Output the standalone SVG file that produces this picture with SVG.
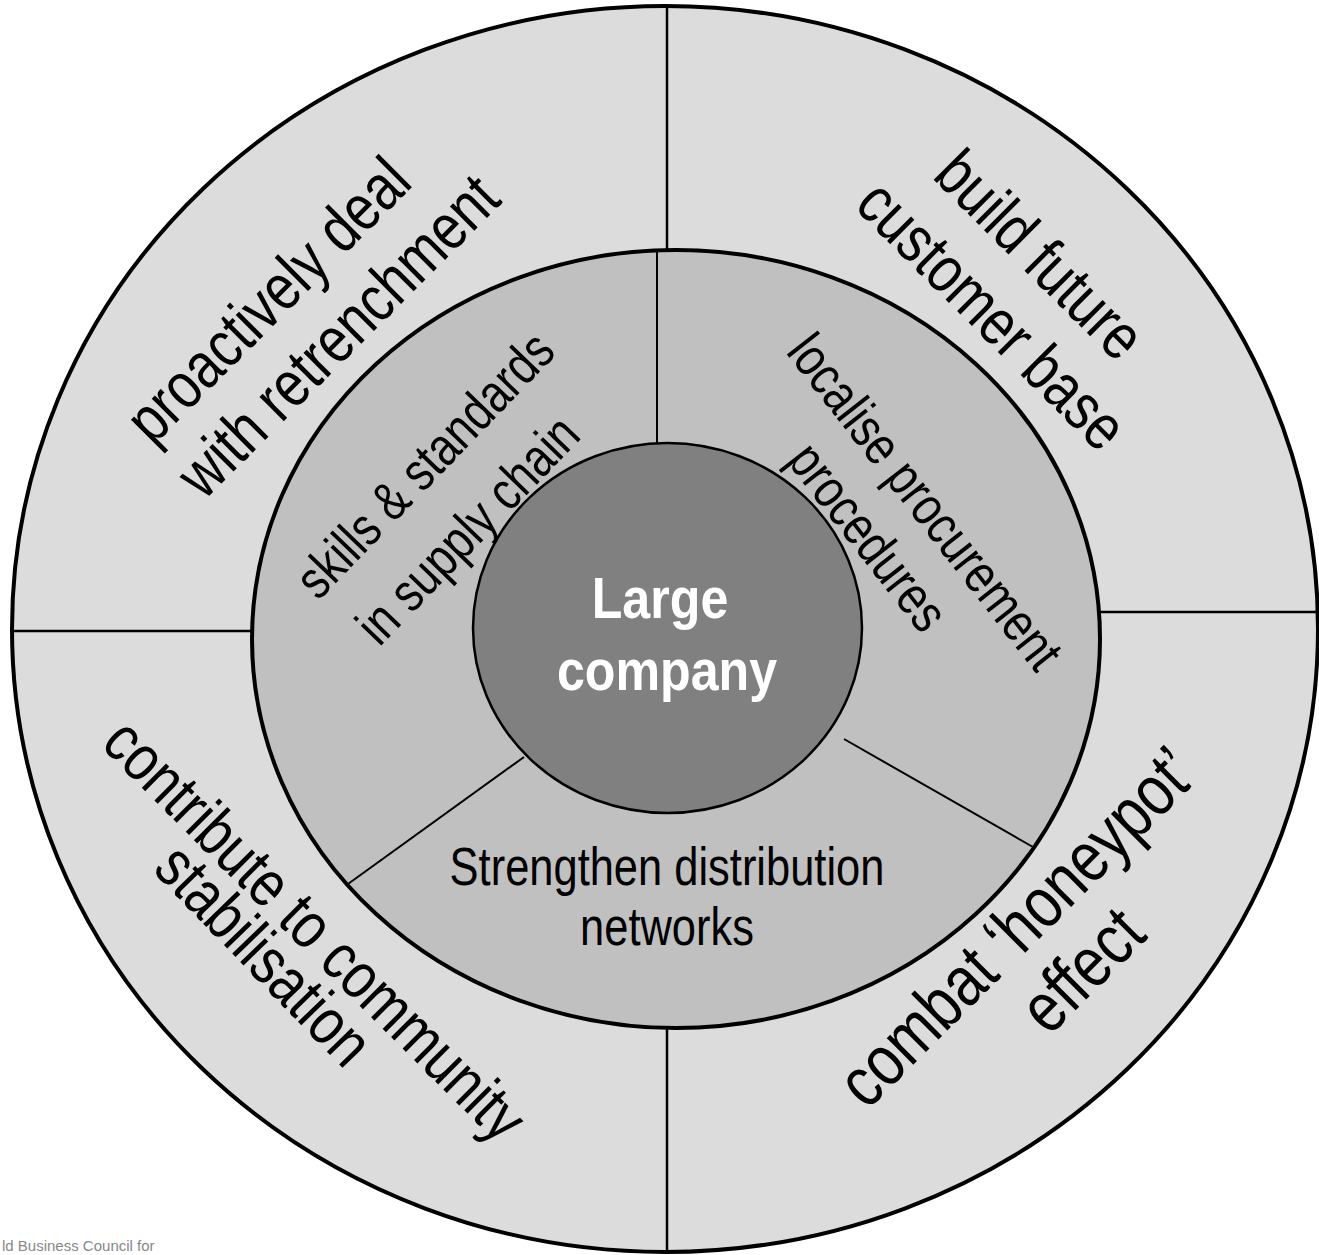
<svg xmlns="http://www.w3.org/2000/svg" width="1319" height="1255" viewBox="0 0 1319 1255">
<style>
.t{font-family:"Liberation Sans","Arial",sans-serif;fill:#000;text-anchor:middle}
.o{font-size:65px}
.b{font-size:71px}
.m{font-size:54px}
.s{font-size:53px}
.c{font-size:57px;font-weight:bold;fill:#fff}
.ln{stroke:#000;fill:none}
</style>
<rect width="1319" height="1255" fill="#fff"/>
<g id="outer-ring">
<ellipse cx="665" cy="629" rx="653" ry="623" fill="#dcdcdc" stroke="#000" stroke-width="4"/>
</g>
<g id="middle-ring">
<ellipse cx="676" cy="639" rx="424" ry="389" fill="#c0c0c0" stroke="#000" stroke-width="4"/>
</g>
<g id="center">
<ellipse cx="667.5" cy="628" rx="194.5" ry="185" fill="#808080" stroke="#000" stroke-width="2.5"/>
<text class="t c" transform="translate(660,618) scale(0.88,1)">Large</text>
<text class="t c" transform="translate(667,690) scale(0.88,1)">company</text>
</g>
<g id="connectors">
<line class="ln" x1="667" y1="6" x2="667" y2="250" stroke-width="2.5"/>
<line class="ln" x1="657" y1="250" x2="657" y2="443" stroke-width="2"/>
<line class="ln" x1="1100" y1="612" x2="1319" y2="612" stroke-width="2.5"/>
<line class="ln" x1="13" y1="631" x2="252" y2="631" stroke-width="2.5"/>
<line class="ln" x1="667" y1="1028" x2="667" y2="1252" stroke-width="2.5"/>
<line class="ln" x1="524" y1="757" x2="348" y2="884" stroke-width="2"/>
<line class="ln" x1="844" y1="739" x2="1033" y2="847" stroke-width="2"/>
</g>
<g id="node-proactively">
<text class="t o" transform="translate(268,300) rotate(-45) scale(0.82,1)" y="22">proactively deal</text>
<text class="t o" transform="translate(338,336) rotate(-45) scale(0.82,1)" y="22">with retrenchment</text>
</g>
<g id="node-build">
<text class="t o" transform="translate(1040,255) rotate(45) scale(0.82,1)" y="22">build future</text>
<text class="t o" transform="translate(992,315) rotate(45) scale(0.82,1)" y="22">customer base</text>
</g>
<g id="node-skills">
<text class="t m" transform="translate(425,465) rotate(-46) scale(0.82,1)" y="18">skills &amp; standards</text>
<text class="t m" transform="translate(468,530) rotate(-46) scale(0.82,1)" y="18">in supply chain</text>
</g>
<g id="node-localise">
<text class="t m" transform="translate(925,502) rotate(52) scale(0.82,1)" y="18">localise procurement</text>
<text class="t m" transform="translate(868,537) rotate(52) scale(0.82,1)" y="18">procedures</text>
</g>
<g id="node-strengthen">
<text class="t s" transform="translate(667,885) scale(0.82,1)">Strengthen distribution</text>
<text class="t s" transform="translate(667,945) scale(0.82,1)">networks</text>
</g>
<g id="node-contribute">
<text class="t o" transform="translate(315,930) rotate(45) scale(0.82,1)" y="22">contribute to community</text>
<text class="t o" transform="translate(264,955) rotate(46) scale(0.82,1)" y="22">stabilisation</text>
</g>
<g id="node-combat">
<text class="t b" transform="translate(1017,927) rotate(-45) scale(0.82,1)" y="24">combat ‘honeypot’</text>
<text class="t b" transform="translate(1082,970) rotate(-45) scale(0.82,1)" y="24">effect</text>
</g>
<text x="2" y="1251" style="font-family:'Liberation Sans',sans-serif;font-size:15px;fill:#888">ld Business Council for</text>
</svg>
